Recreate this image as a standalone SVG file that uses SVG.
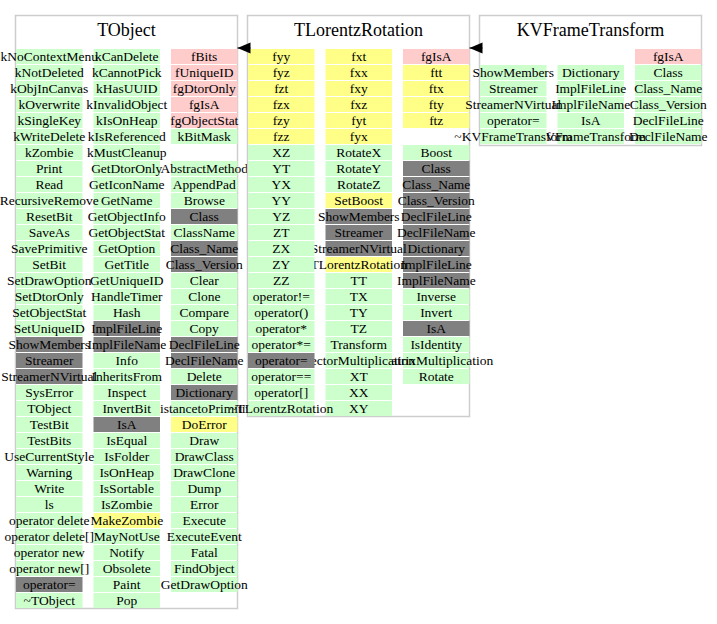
<svg xmlns="http://www.w3.org/2000/svg" width="717" height="624" viewBox="0 0 717 624">
<style>
  .box { fill: #ffffff; stroke: #cdcdcd; stroke-width: 1.5; }
  .title { font-family: "Liberation Serif", "Times New Roman", serif; font-size: 18px; text-anchor: middle; fill: #000; }
  text { font-family: "Liberation Serif", "Times New Roman", serif; font-size: 13.5px; text-anchor: middle; fill: #000; }
  rect { width: 66.5px; height: 15px; }
  .g { fill: #ccffcc; }
  .p { fill: #ffcccc; }
  .y { fill: #ffff88; }
  .d { fill: #808080; }
  .edge { stroke: #000; stroke-width: 1; fill: none; }
</style>
<defs>
  <marker id="head" markerUnits="userSpaceOnUse" markerWidth="14" markerHeight="12" refX="13" refY="5.5" orient="auto">
    <path d="M0,0 L13,5.5 L0,11 z" fill="#000"/>
  </marker>
</defs>

<!-- class TObject: columns are painted right to left -->
<g id="TObject">
  <path class="box" d="M15.5,15.5 H237.5 V608.5 H15.5 Z"/>
  <text class="title" x="126.5" y="36">TObject</text>
  <g transform="translate(171,49)">
    <rect class="p" y="0"/><text x="33.25" y="11.5">fBits</text>
    <rect class="p" y="16"/><text x="33.25" y="27.5">fUniqueID</text>
    <rect class="p" y="32"/><text x="33.25" y="43.5">fgDtorOnly</text>
    <rect class="p" y="48"/><text x="33.25" y="59.5">fgIsA</text>
    <rect class="p" y="64"/><text x="33.25" y="75.5">fgObjectStat</text>
    <rect class="g" y="80"/><text x="33.25" y="91.5">kBitMask</text>
    <rect class="g" y="112"/><text x="33.25" y="123.5">AbstractMethod</text>
    <rect class="g" y="128"/><text x="33.25" y="139.5">AppendPad</text>
    <rect class="g" y="144"/><text x="33.25" y="155.5">Browse</text>
    <rect class="d" y="160"/><text x="33.25" y="171.5">Class</text>
    <rect class="g" y="176"/><text x="33.25" y="187.5">ClassName</text>
    <rect class="d" y="192"/><text x="33.25" y="203.5">Class_Name</text>
    <rect class="d" y="208"/><text x="33.25" y="219.5">Class_Version</text>
    <rect class="g" y="224"/><text x="33.25" y="235.5">Clear</text>
    <rect class="g" y="240"/><text x="33.25" y="251.5">Clone</text>
    <rect class="g" y="256"/><text x="33.25" y="267.5">Compare</text>
    <rect class="g" y="272"/><text x="33.25" y="283.5">Copy</text>
    <rect class="d" y="288"/><text x="33.25" y="299.5">DeclFileLine</text>
    <rect class="d" y="304"/><text x="33.25" y="315.5">DeclFileName</text>
    <rect class="g" y="320"/><text x="33.25" y="331.5">Delete</text>
    <rect class="d" y="336"/><text x="33.25" y="347.5">Dictionary</text>
    <rect class="g" y="352"/><text x="33.25" y="363.5">DistancetoPrimitive</text>
    <rect class="y" y="368"/><text x="33.25" y="379.5">DoError</text>
    <rect class="g" y="384"/><text x="33.25" y="395.5">Draw</text>
    <rect class="g" y="400"/><text x="33.25" y="411.5">DrawClass</text>
    <rect class="g" y="416"/><text x="33.25" y="427.5">DrawClone</text>
    <rect class="g" y="432"/><text x="33.25" y="443.5">Dump</text>
    <rect class="g" y="448"/><text x="33.25" y="459.5">Error</text>
    <rect class="g" y="464"/><text x="33.25" y="475.5">Execute</text>
    <rect class="g" y="480"/><text x="33.25" y="491.5">ExecuteEvent</text>
    <rect class="g" y="496"/><text x="33.25" y="507.5">Fatal</text>
    <rect class="g" y="512"/><text x="33.25" y="523.5">FindObject</text>
    <rect class="g" y="528"/><text x="33.25" y="539.5">GetDrawOption</text>
  </g>
  <g transform="translate(93.5,49)">
    <rect class="g" y="0"/><text x="33.25" y="11.5">kCanDelete</text>
    <rect class="g" y="16"/><text x="33.25" y="27.5">kCannotPick</text>
    <rect class="g" y="32"/><text x="33.25" y="43.5">kHasUUID</text>
    <rect class="g" y="48"/><text x="33.25" y="59.5">kInvalidObject</text>
    <rect class="g" y="64"/><text x="33.25" y="75.5">kIsOnHeap</text>
    <rect class="g" y="80"/><text x="33.25" y="91.5">kIsReferenced</text>
    <rect class="g" y="96"/><text x="33.25" y="107.5">kMustCleanup</text>
    <rect class="g" y="112"/><text x="33.25" y="123.5">GetDtorOnly</text>
    <rect class="g" y="128"/><text x="33.25" y="139.5">GetIconName</text>
    <rect class="g" y="144"/><text x="33.25" y="155.5">GetName</text>
    <rect class="g" y="160"/><text x="33.25" y="171.5">GetObjectInfo</text>
    <rect class="g" y="176"/><text x="33.25" y="187.5">GetObjectStat</text>
    <rect class="g" y="192"/><text x="33.25" y="203.5">GetOption</text>
    <rect class="g" y="208"/><text x="33.25" y="219.5">GetTitle</text>
    <rect class="g" y="224"/><text x="33.25" y="235.5">GetUniqueID</text>
    <rect class="g" y="240"/><text x="33.25" y="251.5">HandleTimer</text>
    <rect class="g" y="256"/><text x="33.25" y="267.5">Hash</text>
    <rect class="d" y="272"/><text x="33.25" y="283.5">ImplFileLine</text>
    <rect class="d" y="288"/><text x="33.25" y="299.5">ImplFileName</text>
    <rect class="g" y="304"/><text x="33.25" y="315.5">Info</text>
    <rect class="g" y="320"/><text x="33.25" y="331.5">InheritsFrom</text>
    <rect class="g" y="336"/><text x="33.25" y="347.5">Inspect</text>
    <rect class="g" y="352"/><text x="33.25" y="363.5">InvertBit</text>
    <rect class="d" y="368"/><text x="33.25" y="379.5">IsA</text>
    <rect class="g" y="384"/><text x="33.25" y="395.5">IsEqual</text>
    <rect class="g" y="400"/><text x="33.25" y="411.5">IsFolder</text>
    <rect class="g" y="416"/><text x="33.25" y="427.5">IsOnHeap</text>
    <rect class="g" y="432"/><text x="33.25" y="443.5">IsSortable</text>
    <rect class="g" y="448"/><text x="33.25" y="459.5">IsZombie</text>
    <rect class="y" y="464"/><text x="33.25" y="475.5">MakeZombie</text>
    <rect class="g" y="480"/><text x="33.25" y="491.5">MayNotUse</text>
    <rect class="g" y="496"/><text x="33.25" y="507.5">Notify</text>
    <rect class="g" y="512"/><text x="33.25" y="523.5">Obsolete</text>
    <rect class="g" y="528"/><text x="33.25" y="539.5">Paint</text>
    <rect class="g" y="544"/><text x="33.25" y="555.5">Pop</text>
  </g>
  <g transform="translate(16,49)">
    <rect class="g" y="0"/><text x="33.25" y="11.5">kNoContextMenu</text>
    <rect class="g" y="16"/><text x="33.25" y="27.5">kNotDeleted</text>
    <rect class="g" y="32"/><text x="33.25" y="43.5">kObjInCanvas</text>
    <rect class="g" y="48"/><text x="33.25" y="59.5">kOverwrite</text>
    <rect class="g" y="64"/><text x="33.25" y="75.5">kSingleKey</text>
    <rect class="g" y="80"/><text x="33.25" y="91.5">kWriteDelete</text>
    <rect class="g" y="96"/><text x="33.25" y="107.5">kZombie</text>
    <rect class="g" y="112"/><text x="33.25" y="123.5">Print</text>
    <rect class="g" y="128"/><text x="33.25" y="139.5">Read</text>
    <rect class="g" y="144"/><text x="33.25" y="155.5">RecursiveRemove</text>
    <rect class="g" y="160"/><text x="33.25" y="171.5">ResetBit</text>
    <rect class="g" y="176"/><text x="33.25" y="187.5">SaveAs</text>
    <rect class="g" y="192"/><text x="33.25" y="203.5">SavePrimitive</text>
    <rect class="g" y="208"/><text x="33.25" y="219.5">SetBit</text>
    <rect class="g" y="224"/><text x="33.25" y="235.5">SetDrawOption</text>
    <rect class="g" y="240"/><text x="33.25" y="251.5">SetDtorOnly</text>
    <rect class="g" y="256"/><text x="33.25" y="267.5">SetObjectStat</text>
    <rect class="g" y="272"/><text x="33.25" y="283.5">SetUniqueID</text>
    <rect class="d" y="288"/><text x="33.25" y="299.5">ShowMembers</text>
    <rect class="d" y="304"/><text x="33.25" y="315.5">Streamer</text>
    <rect class="d" y="320"/><text x="33.25" y="331.5">StreamerNVirtual</text>
    <rect class="g" y="336"/><text x="33.25" y="347.5">SysError</text>
    <rect class="g" y="352"/><text x="33.25" y="363.5">TObject</text>
    <rect class="g" y="368"/><text x="33.25" y="379.5">TestBit</text>
    <rect class="g" y="384"/><text x="33.25" y="395.5">TestBits</text>
    <rect class="g" y="400"/><text x="33.25" y="411.5">UseCurrentStyle</text>
    <rect class="g" y="416"/><text x="33.25" y="427.5">Warning</text>
    <rect class="g" y="432"/><text x="33.25" y="443.5">Write</text>
    <rect class="g" y="448"/><text x="33.25" y="459.5">ls</text>
    <rect class="g" y="464"/><text x="33.25" y="475.5">operator delete</text>
    <rect class="g" y="480"/><text x="33.25" y="491.5">operator delete[]</text>
    <rect class="g" y="496"/><text x="33.25" y="507.5">operator new</text>
    <rect class="g" y="512"/><text x="33.25" y="523.5">operator new[]</text>
    <rect class="d" y="528"/><text x="33.25" y="539.5">operator=</text>
    <rect class="g" y="544"/><text x="33.25" y="555.5">~TObject</text>
  </g>
</g>

<!-- class TLorentzRotation -->
<g id="TLorentzRotation">
  <path class="box" d="M247.5,15.5 H469.5 V416.5 H247.5 Z"/>
  <text class="title" x="358.5" y="36">TLorentzRotation</text>
  <g transform="translate(403,49)">
    <rect class="p" y="0"/><text x="33.25" y="11.5">fgIsA</text>
    <rect class="y" y="16"/><text x="33.25" y="27.5">ftt</text>
    <rect class="y" y="32"/><text x="33.25" y="43.5">ftx</text>
    <rect class="y" y="48"/><text x="33.25" y="59.5">fty</text>
    <rect class="y" y="64"/><text x="33.25" y="75.5">ftz</text>
    <rect class="g" y="96"/><text x="33.25" y="107.5">Boost</text>
    <rect class="d" y="112"/><text x="33.25" y="123.5">Class</text>
    <rect class="d" y="128"/><text x="33.25" y="139.5">Class_Name</text>
    <rect class="d" y="144"/><text x="33.25" y="155.5">Class_Version</text>
    <rect class="d" y="160"/><text x="33.25" y="171.5">DeclFileLine</text>
    <rect class="d" y="176"/><text x="33.25" y="187.5">DeclFileName</text>
    <rect class="d" y="192"/><text x="33.25" y="203.5">Dictionary</text>
    <rect class="d" y="208"/><text x="33.25" y="219.5">ImplFileLine</text>
    <rect class="d" y="224"/><text x="33.25" y="235.5">ImplFileName</text>
    <rect class="g" y="240"/><text x="33.25" y="251.5">Inverse</text>
    <rect class="g" y="256"/><text x="33.25" y="267.5">Invert</text>
    <rect class="d" y="272"/><text x="33.25" y="283.5">IsA</text>
    <rect class="g" y="288"/><text x="33.25" y="299.5">IsIdentity</text>
    <rect class="g" y="304"/><text x="33.25" y="315.5">MatrixMultiplication</text>
    <rect class="g" y="320"/><text x="33.25" y="331.5">Rotate</text>
  </g>
  <g transform="translate(325.5,49)">
    <rect class="y" y="0"/><text x="33.25" y="11.5">fxt</text>
    <rect class="y" y="16"/><text x="33.25" y="27.5">fxx</text>
    <rect class="y" y="32"/><text x="33.25" y="43.5">fxy</text>
    <rect class="y" y="48"/><text x="33.25" y="59.5">fxz</text>
    <rect class="y" y="64"/><text x="33.25" y="75.5">fyt</text>
    <rect class="y" y="80"/><text x="33.25" y="91.5">fyx</text>
    <rect class="g" y="96"/><text x="33.25" y="107.5">RotateX</text>
    <rect class="g" y="112"/><text x="33.25" y="123.5">RotateY</text>
    <rect class="g" y="128"/><text x="33.25" y="139.5">RotateZ</text>
    <rect class="y" y="144"/><text x="33.25" y="155.5">SetBoost</text>
    <rect class="d" y="160"/><text x="33.25" y="171.5">ShowMembers</text>
    <rect class="d" y="176"/><text x="33.25" y="187.5">Streamer</text>
    <rect class="d" y="192"/><text x="33.25" y="203.5">StreamerNVirtual</text>
    <rect class="y" y="208"/><text x="33.25" y="219.5">TLorentzRotation</text>
    <rect class="g" y="224"/><text x="33.25" y="235.5">TT</text>
    <rect class="g" y="240"/><text x="33.25" y="251.5">TX</text>
    <rect class="g" y="256"/><text x="33.25" y="267.5">TY</text>
    <rect class="g" y="272"/><text x="33.25" y="283.5">TZ</text>
    <rect class="g" y="288"/><text x="33.25" y="299.5">Transform</text>
    <rect class="g" y="304"/><text x="33.25" y="315.5">VectorMultiplication</text>
    <rect class="g" y="320"/><text x="33.25" y="331.5">XT</text>
    <rect class="g" y="336"/><text x="33.25" y="347.5">XX</text>
    <rect class="g" y="352"/><text x="33.25" y="363.5">XY</text>
  </g>
  <g transform="translate(248,49)">
    <rect class="y" y="0"/><text x="33.25" y="11.5">fyy</text>
    <rect class="y" y="16"/><text x="33.25" y="27.5">fyz</text>
    <rect class="y" y="32"/><text x="33.25" y="43.5">fzt</text>
    <rect class="y" y="48"/><text x="33.25" y="59.5">fzx</text>
    <rect class="y" y="64"/><text x="33.25" y="75.5">fzy</text>
    <rect class="y" y="80"/><text x="33.25" y="91.5">fzz</text>
    <rect class="g" y="96"/><text x="33.25" y="107.5">XZ</text>
    <rect class="g" y="112"/><text x="33.25" y="123.5">YT</text>
    <rect class="g" y="128"/><text x="33.25" y="139.5">YX</text>
    <rect class="g" y="144"/><text x="33.25" y="155.5">YY</text>
    <rect class="g" y="160"/><text x="33.25" y="171.5">YZ</text>
    <rect class="g" y="176"/><text x="33.25" y="187.5">ZT</text>
    <rect class="g" y="192"/><text x="33.25" y="203.5">ZX</text>
    <rect class="g" y="208"/><text x="33.25" y="219.5">ZY</text>
    <rect class="g" y="224"/><text x="33.25" y="235.5">ZZ</text>
    <rect class="g" y="240"/><text x="33.25" y="251.5">operator!=</text>
    <rect class="g" y="256"/><text x="33.25" y="267.5">operator()</text>
    <rect class="g" y="272"/><text x="33.25" y="283.5">operator*</text>
    <rect class="g" y="288"/><text x="33.25" y="299.5">operator*=</text>
    <rect class="d" y="304"/><text x="33.25" y="315.5">operator=</text>
    <rect class="g" y="320"/><text x="33.25" y="331.5">operator==</text>
    <rect class="g" y="336"/><text x="33.25" y="347.5">operator[]</text>
    <rect class="g" y="352"/><text x="33.25" y="363.5">~TLorentzRotation</text>
  </g>
</g>

<!-- class KVFrameTransform -->
<g id="KVFrameTransform">
  <path class="box" d="M479.5,15.5 H701.5 V145.5 H479.5 Z"/>
  <text class="title" x="590.5" y="36">KVFrameTransform</text>
  <g transform="translate(635,49)">
    <rect class="p" y="0"/><text x="33.25" y="11.5">fgIsA</text>
    <rect class="g" y="16"/><text x="33.25" y="27.5">Class</text>
    <rect class="g" y="32"/><text x="33.25" y="43.5">Class_Name</text>
    <rect class="g" y="48"/><text x="33.25" y="59.5">Class_Version</text>
    <rect class="g" y="64"/><text x="33.25" y="75.5">DeclFileLine</text>
    <rect class="g" y="80"/><text x="33.25" y="91.5">DeclFileName</text>
  </g>
  <g transform="translate(557.5,49)">
    <rect class="g" y="16"/><text x="33.25" y="27.5">Dictionary</text>
    <rect class="g" y="32"/><text x="33.25" y="43.5">ImplFileLine</text>
    <rect class="g" y="48"/><text x="33.25" y="59.5">ImplFileName</text>
    <rect class="g" y="64"/><text x="33.25" y="75.5">IsA</text>
    <rect class="g" y="80"/><text x="33.25" y="91.5">KVFrameTransform</text>
  </g>
  <g transform="translate(480,49)">
    <rect class="g" y="16"/><text x="33.25" y="27.5">ShowMembers</text>
    <rect class="g" y="32"/><text x="33.25" y="43.5">Streamer</text>
    <rect class="g" y="48"/><text x="33.25" y="59.5">StreamerNVirtual</text>
    <rect class="g" y="64"/><text x="33.25" y="75.5">operator=</text>
    <rect class="g" y="80"/><text x="33.25" y="91.5">~KVFrameTransform</text>
  </g>
</g>

<!-- inheritance edges -->
<g id="edges">
  <path class="edge" d="M250.5,48 H237.5" marker-end="url(#head)"/>
  <path class="edge" d="M482.5,48 H469.5" marker-end="url(#head)"/>
</g>
</svg>
